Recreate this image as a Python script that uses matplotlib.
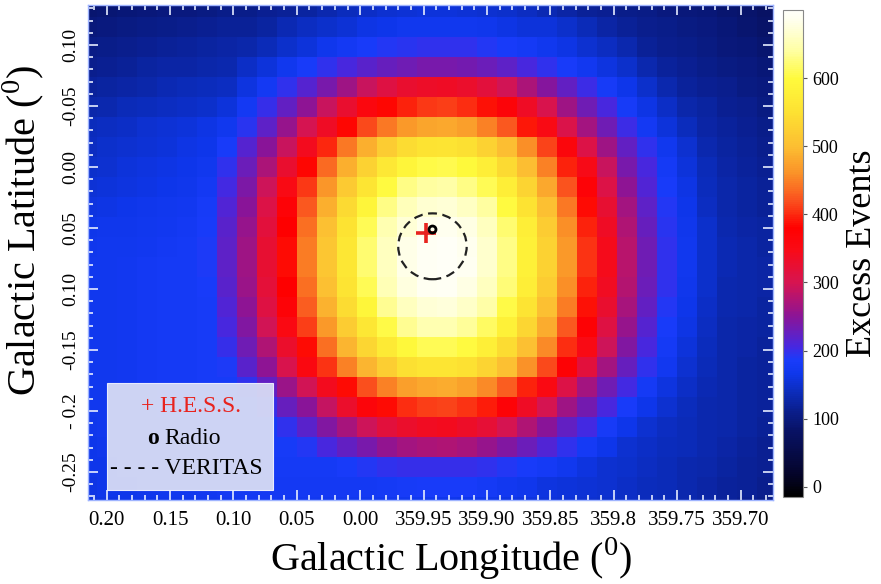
import numpy as np
import matplotlib
matplotlib.use('Agg')
import matplotlib.pyplot as plt
from matplotlib.colors import LinearSegmentedColormap
from matplotlib.patches import Circle, Rectangle
from matplotlib.ticker import FixedLocator, MultipleLocator

# excess counts per sky bin, top row first, longitude decreasing to the right
excess = np.array([
    [90,92,95,98,100,102,105,108,110,114,117,124,132,140,146,151,154,156,156,155,152,147,142,135,127,117,114,110,106,102,98,94,90,86,80],
    [98,101,103,106,109,111,114,117,119,122,134,144,148,155,161,166,170,172,172,170,167,163,157,156,147,137,126,117,113,109,104,100,96,91,85],
    [106,109,112,114,117,120,123,125,128,138,148,158,167,176,184,190,194,197,197,195,191,185,178,170,162,152,144,132,118,113,108,104,99,95,90],
    [113,116,119,122,125,127,130,133,145,158,171,184,196,208,218,227,233,237,238,235,229,220,208,197,185,173,160,148,133,120,115,110,105,100,95],
    [121,124,127,130,134,137,140,143,159,176,195,216,239,264,290,311,327,334,336,330,317,296,272,245,223,202,181,164,148,132,121,116,111,105,100],
    [130,133,136,139,143,146,149,157,177,198,223,253,290,327,359,383,398,408,410,402,389,365,336,302,264,232,206,182,163,146,129,122,116,111,105],
    [139,143,146,150,154,157,161,171,194,222,256,299,335,383,416,445,468,477,480,471,451,425,392,350,305,267,231,202,177,157,139,127,121,116,110],
    [144,148,151,155,158,162,165,186,215,250,292,340,401,445,487,520,543,554,556,547,528,499,458,413,360,308,264,225,195,171,150,131,123,118,112],
    [149,152,156,159,162,165,171,197,229,272,327,383,435,487,528,565,590,605,607,598,575,539,499,451,398,346,290,239,206,178,156,137,126,120,114],
    [155,158,160,163,166,169,177,205,241,293,349,407,464,517,558,600,628,640,642,630,610,577,531,480,422,368,308,253,214,185,162,141,128,122,117],
    [160,163,165,168,170,173,182,212,250,307,368,425,487,539,590,630,655,668,670,660,640,602,553,502,445,386,324,267,222,191,165,144,130,124,119],
    [165,167,169,171,174,176,186,217,258,317,380,438,502,554,608,648,672,685,687,678,656,620,575,520,458,396,336,275,227,194,168,147,133,127,122],
    [168,170,172,174,176,178,188,220,264,324,386,448,511,563,620,656,682,693,695,688,665,630,582,528,468,404,343,281,231,196,170,148,135,129,124],
    [170,172,174,176,178,179,188,220,264,324,386,448,511,563,620,656,682,694,696,689,665,630,582,528,468,404,343,281,231,196,170,148,135,130,125],
    [170,172,174,176,178,179,186,217,259,318,381,440,504,556,610,650,676,690,692,680,658,622,576,521,459,397,337,276,228,195,168,147,133,129,125],
    [170,172,174,176,178,179,183,213,251,309,370,427,489,541,592,633,658,672,674,663,642,604,555,504,447,388,326,268,223,191,166,145,132,128,123],
    [170,172,174,176,178,179,181,207,243,296,352,410,468,521,563,605,634,647,649,637,616,580,535,484,426,371,311,256,216,186,163,142,130,126,122],
    [170,172,174,176,178,179,181,199,231,275,331,387,440,492,533,566,594,608,610,600,578,543,504,456,403,350,294,242,208,180,158,139,129,125,121],
    [170,172,174,176,178,179,181,188,217,253,302,355,405,449,491,524,547,558,560,551,532,503,462,417,371,317,266,227,197,173,152,136,128,124,120],
    [170,172,174,176,178,179,181,183,196,224,259,296,340,386,420,449,472,481,484,475,455,429,396,352,308,265,233,204,179,159,145,135,128,124,120],
    [170,172,174,176,178,179,181,183,185,200,226,250,287,330,363,387,402,412,414,406,393,369,335,300,262,234,208,184,165,150,141,133,128,124,120],
    [168,170,172,174,176,177,179,181,183,183,197,218,242,268,294,315,331,338,340,334,321,300,275,248,225,204,183,166,151,143,138,133,128,123,118],
    [166,168,170,172,174,175,177,179,181,181,181,190,207,224,239,254,265,272,273,268,257,244,228,212,196,179,164,152,146,141,136,131,126,121,116],
    [164,166,168,170,172,173,175,177,179,179,179,179,180,185,190,195,198,200,200,198,195,190,185,180,172,159,152,147,142,137,133,128,123,119,114],
    [162,164,166,168,170,171,173,175,177,176,176,176,175,175,175,178,183,186,186,184,180,174,167,159,157,153,150,145,140,136,131,126,121,117,112],
    [160,162,164,166,168,169,171,173,175,175,174,173,172,172,172,171,171,170,169,166,164,161,159,156,154,151,149,145,140,136,131,126,120,115,110],
])

xtick_vals = [0.20, 0.15, 0.10, 0.05, 0.00, -0.05, -0.10, -0.15, -0.20, -0.25, -0.30]
xtick_labels = ['0.20', '0.15', '0.10', '0.05', '0.00', '359.95', '359.90',
                '359.85', '359.8', '359.75', '359.70']
ytick_vals = [0.10, 0.05, 0.00, -0.05, -0.10, -0.15, -0.20, -0.25]
ytick_labels = ['0.10', '-0.05', '0.00', '0.05', '0.10', '-0.15', '- 0.2', '-0.25']
cbar_ticks = [0, 100, 200, 300, 400, 500, 600]

# source positions (galactic l, b in degrees)
hess_l, hess_b = 359.948, -0.054
radio_l, radio_b = 359.943, -0.051
veritas_l, veritas_b, veritas_r = 359.943, -0.065, 0.027

# colour scale for excess counts
stop_vals = [-15, 20, 80, 110, 140, 165, 185, 205, 250, 300, 350, 380, 420, 460, 500, 550, 600, 645, 685, 700]
stop_colors = ['#000000', '#05052d', '#081264', '#0a1e8c', '#0c2dbe', '#0f37eb',
               '#193cfa', '#4628e1', '#8c1496', '#d71450', '#fa0a14', '#ff0000',
               '#fa501e', '#fa9128', '#fcbe32', '#fde132', '#fffa3c', '#ffffaa',
               '#ffffec', '#fffffa']
vmin, vmax = stop_vals[0], stop_vals[-1]
cmap = LinearSegmentedColormap.from_list(
    'excess', [((v - vmin) / (vmax - vmin), c) for v, c in zip(stop_vals, stop_colors)])


def wrap(l):
    return l - 360 if l > 180 else l


plt.rcParams['font.family'] = ['Liberation Serif', 'DejaVu Serif']
plt.rcParams['mathtext.fontset'] = 'custom'
plt.rcParams['mathtext.rm'] = 'Liberation Serif'

fig = plt.figure(figsize=(8.81, 5.84), dpi=100)
ax = fig.add_axes([0.0999, 0.1438, 0.7775, 0.8476])

im = ax.imshow(excess, cmap=cmap, vmin=vmin, vmax=vmax, origin='upper',
               extent=(0.2233, -0.3287, -0.2869, 0.1393),
               interpolation='nearest', aspect='auto')
ax.set_xlim(0.2147, -0.3256)
ax.set_ylim(-0.273, 0.1328)

ax.add_patch(Circle((wrap(veritas_l), veritas_b), veritas_r, fill=False,
                    ec='#222222', lw=1.6, ls=(0, (4, 2.5)), zorder=3))
ax.plot(wrap(hess_l), hess_b, marker='+', color='#e8231e', ms=15, mew=2.6, zorder=4)
ax.plot(wrap(radio_l), radio_b, marker='o', mfc='none', mec='black', ms=5, mew=2, zorder=5)

# key box in the lower left corner
ax.add_patch(Rectangle((0.028, 0.020), 0.242, 0.216, transform=ax.transAxes,
                       fc='#d8dcf4', ec='#eef0ff', lw=0.8, alpha=0.95, zorder=6))
ax.text(0.078, 0.188, '+ H.E.S.S.', color='#e8231e', fontsize=17,
        transform=ax.transAxes, va='center', zorder=7)
ax.text(0.087, 0.125, 'o', color='black', fontsize=17, fontweight='bold',
        transform=ax.transAxes, va='center', zorder=7)
ax.text(0.112, 0.125, 'Radio', color='black', fontsize=17,
        transform=ax.transAxes, va='center', zorder=7)
ax.text(0.032, 0.064, '- - - - VERITAS', color='black', fontsize=17,
        transform=ax.transAxes, va='center', zorder=7)

ax.xaxis.set_major_locator(FixedLocator(xtick_vals))
ax.set_xticklabels(xtick_labels, fontsize=15)
ax.yaxis.set_major_locator(FixedLocator(ytick_vals))
ax.set_yticklabels(ytick_labels, fontsize=14, rotation=90, va='center')
ax.xaxis.set_minor_locator(MultipleLocator(0.01))
ax.yaxis.set_minor_locator(MultipleLocator(0.01))
ax.tick_params(which='both', direction='in', top=True, right=True,
               color='#e6ecff', width=1.2)
ax.tick_params(which='major', length=7)
ax.tick_params(axis='x', which='major', pad=8)
ax.tick_params(axis='y', which='major', pad=6)
ax.tick_params(which='minor', length=3.5)
for sp in ax.spines.values():
    sp.set_color('#9fb4ff')
    sp.set_linewidth(1.0)

ax.set_xlabel('Galactic Longitude ($^{\\mathrm{0}}$)', fontsize=29)
ax.set_ylabel('Galactic Latitude ($^{\\mathrm{0}}$)', fontsize=29)
ax.xaxis.set_label_coords(0.53, -0.072)
ax.yaxis.set_label_coords(-0.062, 0.545)

cax = fig.add_axes([0.8888, 0.149, 0.0227, 0.834])
cb = fig.colorbar(im, cax=cax, ticks=cbar_ticks)
cb.outline.set_edgecolor('#888888')
cb.outline.set_linewidth(0.8)
cb.ax.tick_params(labelsize=13, length=3, width=0.8, color='#555555')
cb.set_label('Excess Events', fontsize=26, labelpad=5)

fig.savefig('out.png', dpi=100)
